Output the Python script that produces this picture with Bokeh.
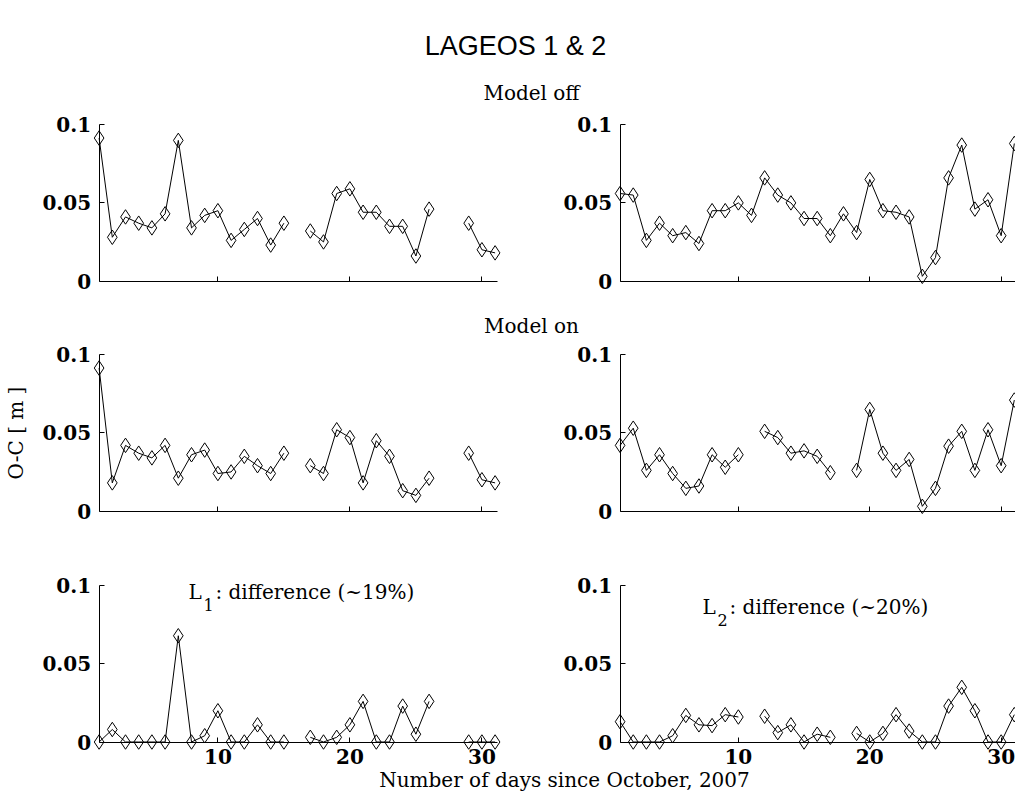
from bokeh.plotting import figure
from bokeh.models import Range1d, FixedTicker, Label
from bokeh.layouts import column, row
from bokeh.embed import file_html
from bokeh.resources import INLINE

nan = float("nan")

# ---------------- data ----------------
days = list(range(1, 32))

l1_model_off = [0.0915, 0.028, 0.041, 0.037, 0.034, 0.043, 0.090, 0.034, 0.042, 0.045,
                0.026, 0.033, 0.040, 0.023, 0.037, nan, 0.032, 0.025, 0.056, 0.059,
                0.044, 0.044, 0.035, 0.035, 0.016, 0.046, nan, nan, 0.037, 0.020, 0.018]
l1_model_on = [0.0915, 0.018, 0.042, 0.037, 0.034, 0.042, 0.021, 0.036, 0.039, 0.024,
               0.025, 0.035, 0.029, 0.024, 0.037, nan, 0.029, 0.024, 0.052, 0.047,
               0.018, 0.045, 0.035, 0.013, 0.010, 0.021, nan, nan, 0.037, 0.020, 0.018]
l1_difference = [0.0, 0.008, 0.0, 0.0, 0.0, 0.0, 0.068, 0.0, 0.004, 0.020,
                 0.0, 0.0, 0.011, 0.0, 0.0, nan, 0.003, 0.0, 0.003, 0.011,
                 0.026, 0.0, 0.0, 0.023, 0.005, 0.026, nan, nan, 0.0, 0.0, 0.0]

l2_model_off = [0.056, 0.055, 0.026, 0.037, 0.029, 0.031, 0.024, 0.045, 0.045, 0.050,
                0.042, 0.066, 0.055, 0.050, 0.040, 0.040, 0.029, 0.043, 0.031, 0.065,
                0.045, 0.044, 0.041, 0.003, 0.015, 0.066, 0.087, 0.046, 0.052, 0.029, 0.088]
l2_model_on = [0.042, 0.053, 0.026, 0.036, 0.024, 0.0145, 0.016, 0.036, 0.028, 0.036,
               nan, 0.051, 0.047, 0.037, 0.0385, 0.035, 0.0245, nan, 0.026, 0.065,
               0.037, 0.026, 0.033, 0.003, 0.0145, 0.0415, 0.051, 0.026, 0.052, 0.029, 0.071]
l2_difference = [0.013, 0.0, 0.0, 0.0, 0.004, 0.017, 0.011, 0.0105, 0.0175, 0.016,
                 nan, 0.0165, 0.006, 0.011, 0.0, 0.005, 0.003, nan, 0.0055, 0.0,
                 0.0055, 0.0175, 0.007, 0.0, 0.0, 0.023, 0.035, 0.020, 0.0, 0.0, 0.0175]

x_ticks = [10, 20, 30]
y_ticks = [0, 0.05, 0.1]
y_tick_labels = {0: "0", 0.05: "0.05", 0.1: "0.1"}

title_text = "LAGEOS 1 & 2"
row1_text = "Model off"
row2_text = "Model on"
y_label = "O-C [ m ]"
x_label = "Number of days since October, 2007"

# ---------------- layout constants (pixels) ----------------
SERIF = "DejaVu Serif"
SANS = "Liberation Sans"
W = 1015
LEFT_W, RIGHT_W = 555, 460
# (local pixel of day 1, pixels per day, x axis end in days)
LEFT_X = (98.6, 13.2, 31.15)
RIGHT_X = (64.6, 13.14, 31.09)
PX_PER_UNIT = 1562.5  # vertical pixels per metre


def panel(ys, left, height, y0_local, show_x_labels, ylabel=None):
    width = LEFT_W if left else RIGHT_W
    d1, ppd, xend = LEFT_X if left else RIGHT_X
    xr = Range1d(1 - d1 / ppd, 1 + (width - d1) / ppd)
    yr = Range1d(-(height - y0_local) / PX_PER_UNIT, y0_local / PX_PER_UNIT)
    p = figure(width=width, height=height, x_range=xr, y_range=yr, min_border=0,
               toolbar_location=None, output_backend="svg")
    p.outline_line_color = None
    p.grid.visible = False

    xa = p.xaxis[0]
    xa.fixed_location = 0
    xa.bounds = (1, xend)
    xa.ticker = FixedTicker(ticks=x_ticks)
    xa.minor_tick_line_color = None
    xa.major_tick_in = 5
    xa.major_tick_out = 0
    xa.axis_line_color = "black"
    xa.major_tick_line_color = "black"
    xa.major_label_text_font = SERIF
    xa.major_label_text_font_style = "bold"
    xa.major_label_text_font_size = "20px"
    xa.major_label_text_color = "black"
    xa.major_label_standoff = 7
    if not show_x_labels:
        xa.major_label_text_alpha = 0

    ya = p.yaxis[0]
    ya.fixed_location = 1
    ya.bounds = (0, 0.1)
    ya.ticker = FixedTicker(ticks=y_ticks)
    ya.major_label_overrides = y_tick_labels
    ya.minor_tick_line_color = None
    ya.major_tick_in = 5
    ya.major_tick_out = 0
    ya.axis_line_color = "black"
    ya.major_tick_line_color = "black"
    ya.major_label_text_font = SERIF
    ya.major_label_text_font_style = "bold"
    ya.major_label_text_font_size = "20px"
    ya.major_label_text_color = "black"
    ya.major_label_standoff = 8
    if ylabel:
        ya.axis_label = ylabel
        ya.axis_label_text_font = SERIF
        ya.axis_label_text_font_style = "normal"
        ya.axis_label_text_font_size = "20px"
        ya.axis_label_text_color = "black"
        ya.axis_label_standoff = 12

    p.line(days, ys, line_color="black", line_width=1)
    p.scatter(days, ys, marker="diamond", size=14.5, fill_color=None,
              line_color="black", line_width=1)
    return p


def text_strip(height, labels):
    p = figure(width=W, height=height, x_range=Range1d(0, W), y_range=Range1d(height, 0),
               x_axis_type=None, y_axis_type=None, min_border=0,
               toolbar_location=None, output_backend="svg")
    p.outline_line_color = None
    p.grid.visible = False
    for (txt, x, y, font, size) in labels:
        p.add_layout(Label(x=x, y=y, text=txt, text_font=font, text_font_size=size,
                           text_align="center", text_baseline="middle", text_color="black"))
    return p


def sub_label(p, x, y, main, sub, rest):
    common = dict(x=x, y=y, text_font=SERIF, text_color="black",
                  text_align="left", text_baseline="alphabetic")
    p.add_layout(Label(text=main, text_font_size="20px", **common))
    p.add_layout(Label(text=sub, text_font_size="16px", x_offset=15, y_offset=-13, **common))
    p.add_layout(Label(text=rest, text_font_size="20px", x_offset=27, **common))


header = text_strip(105, [(title_text, 515, 45, SANS, "27px"),
                          (row1_text, 531, 92, SERIF, "20px")])
mid = text_strip(38, [(row2_text, 531, 25, SERIF, "20px")])
footer = text_strip(34, [(x_label, 564, 11, SERIF, "20px")])

# rows: heights 195 (y 105..300), 192 (y 338..530), 238 (y 530..768)
p11 = panel(l1_model_off, True, 195, 175.5, False)
p12 = panel(l2_model_off, False, 195, 175.5, False)
p21 = panel(l1_model_on, True, 192, 172.5, False, ylabel=y_label)
p22 = panel(l2_model_on, False, 192, 172.5, False)
p31 = panel(l1_difference, True, 238, 211.5, True)
p32 = panel(l2_difference, False, 238, 211.5, True)

sub_label(p31, 7.77, 0.0957, "L", "1", ": difference (~19%)")
sub_label(p32, 7.27, 0.0864, "L", "2", ": difference (~20%)")

layout = column(header, row(p11, p12), mid, row(p21, p22), row(p31, p32), footer)

open("out.html", "w").write(file_html(layout, INLINE))
